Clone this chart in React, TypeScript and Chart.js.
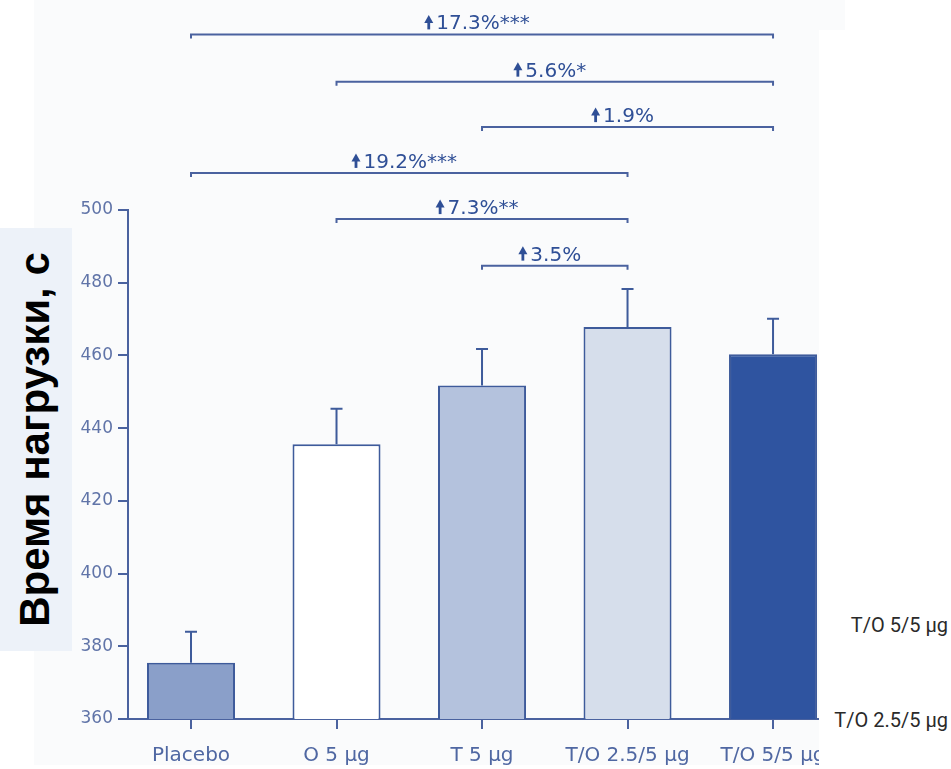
import React, { useEffect, useRef } from "react";
import { Chart, registerables } from "chart.js";

Chart.register(...registerables);

// Groups and measured exercise time (s), mean with SE
const categories = ["Placebo", "O 5 μg", "T 5 μg", "T/O 2.5/5 μg", "T/O 5/5 μg"];
const means = [375.5, 435.6, 451.7, 467.8, 460.3];
const errors = [8.5, 9.7, 10.1, 10.5, 9.8];
const barFills = ["#8a9fc9", "#ffffff", "#b4c2dd", "#d6deeb", "#2f54a0"];
const yTicks = [360, 380, 400, 420, 440, 460, 480, 500];

// Pairwise comparison brackets (category indexes, height on the y scale, label)
const bracketFrom = [0, 1, 2, 0, 1, 2];
const bracketTo = [4, 4, 4, 3, 3, 3];
const bracketLevel = [548.3, 535.3, 522.8, 510.2, 497.5, 484.7];
const bracketLabel = ["17.3%***", "5.6%*", "1.9%", "19.2%***", "7.3%**", "3.5%"];

const AXIS = "#4a629f";
const BAR_EDGE = "#3e5b9b";
const TEXT_BLUE = "#2f4f96";

const errorBars = {
  id: "errorBars",
  afterDatasetsDraw(chart: any) {
    const { ctx, scales } = chart;
    const xs = scales.x;
    const ys = scales.y;
    ctx.save();
    ctx.strokeStyle = BAR_EDGE;
    ctx.lineWidth = 2;
    means.forEach((m, i) => {
      const x = xs.getPixelForValue(i);
      const yTop = ys.getPixelForValue(m);
      const yErr = ys.getPixelForValue(m + errors[i]);
      ctx.beginPath();
      ctx.moveTo(x, yTop);
      ctx.lineTo(x, yErr);
      ctx.moveTo(x - 6, yErr);
      ctx.lineTo(x + 6, yErr);
      ctx.stroke();
    });
    ctx.restore();
  },
};

const brackets = {
  id: "brackets",
  afterDraw(chart: any) {
    const { ctx, scales } = chart;
    const xs = scales.x;
    const ys = scales.y;
    ctx.save();
    ctx.lineWidth = 2;
    ctx.strokeStyle = AXIS;
    ctx.fillStyle = TEXT_BLUE;
    ctx.font = "20px 'DejaVu Sans'";
    ctx.textBaseline = "alphabetic";
    ctx.textAlign = "left";
    bracketLabel.forEach((label, i) => {
      const x1 = xs.getPixelForValue(bracketFrom[i]);
      const x2 = xs.getPixelForValue(bracketTo[i]);
      const y = ys.getPixelForValue(bracketLevel[i]);
      ctx.beginPath();
      ctx.moveTo(x1, y + 4);
      ctx.lineTo(x1, y);
      ctx.lineTo(x2, y);
      ctx.lineTo(x2, y + 4);
      ctx.stroke();

      const base = y - 5;
      const w = ctx.measureText(label).width;
      const arrowW = 9;
      const gap = 3;
      const total = arrowW + gap + w;
      const start = (x1 + x2) / 2 - 5 - total / 2;
      // up arrow: filled head + stem
      const ac = start + arrowW / 2;
      ctx.beginPath();
      ctx.moveTo(ac, base - 14.5);
      ctx.lineTo(start + arrowW, base - 6.5);
      ctx.lineTo(start, base - 6.5);
      ctx.closePath();
      ctx.fill();
      ctx.fillRect(ac - 1.4, base - 8, 2.8, 8);
      ctx.fillText(label, start + arrowW + gap, base);
    });
    ctx.restore();
  },
};

export default function App() {
  const canvasRef = useRef<HTMLCanvasElement | null>(null);

  useEffect(() => {
    if (!canvasRef.current) return;
    const chart = new Chart(canvasRef.current, {
      type: "bar",
      data: {
        datasets: [
          {
            data: means.map((v, i) => ({ x: i, y: v })),
            backgroundColor: barFills,
            borderColor: BAR_EDGE,
            borderWidth: 2,
            borderSkipped: false,
            categoryPercentage: 1,
            barPercentage: 0.605,
          },
        ],
      },
      options: {
        animation: false,
        responsive: false,
        devicePixelRatio: 1,
        layout: { autoPadding: false, padding: { top: 210, right: 1, bottom: 0, left: 0 } },
        plugins: {
          legend: { display: false },
          tooltip: { enabled: false },
        },
        scales: {
          x: {
            type: "linear",
            offset: false,
            min: -0.433,
            max: 4.309,
            afterBuildTicks: (s: any) => {
              s.ticks = categories.map((_, i) => ({ value: i }));
            },
            afterFit: (s: any) => {
              s.height = 50;
              s.paddingLeft = 0;
              s.paddingRight = 0;
            },
            grid: {
              offset: false,
              drawOnChartArea: false,
              drawTicks: true,
              tickLength: 10,
              color: AXIS,
              lineWidth: 2,
            },
            border: { display: true, color: AXIS, width: 2 },
            ticks: {
              autoSkip: false,
              maxRotation: 0,
              padding: 15,
              color: "#4f67a2",
              font: { family: "'DejaVu Sans'", size: 20 },
              callback: (v: any) => categories[Math.round(Number(v))] ?? "",
            },
          },
          y: {
            type: "linear",
            min: 360,
            max: 500,
            afterBuildTicks: (s: any) => {
              s.ticks = yTicks.map((v) => ({ value: v }));
            },
            afterFit: (s: any) => {
              s.width = 94;
              s.paddingTop = 0;
              s.paddingBottom = 0;
            },
            grid: {
              drawOnChartArea: false,
              drawTicks: true,
              tickLength: 10,
              color: AXIS,
              lineWidth: 2,
            },
            border: { display: true, color: AXIS, width: 2 },
            ticks: {
              padding: 5,
              color: "#6074a8",
              font: { family: "'DejaVu Sans'", size: 17 },
            },
          },
        },
      },
      plugins: [errorBars, brackets],
    });
    return () => chart.destroy();
  }, []);

  const sideText: React.CSSProperties = {
    position: "absolute",
    right: 3,
    lineHeight: "22px",
    fontFamily: "Roboto, sans-serif",
    fontSize: 20,
    color: "#2a2a2a",
    whiteSpace: "nowrap",
  };

  return (
    <div
      style={{
        position: "absolute",
        left: 0,
        top: 0,
        width: 951,
        height: 769,
        overflow: "hidden",
        background: "#ffffff",
      }}
    >
      <div style={{ position: "absolute", left: 34, top: 0, width: 811, height: 30, background: "#fafbfc" }} />
      <div style={{ position: "absolute", left: 34, top: 30, width: 785, height: 735, background: "#fafbfc" }} />
      <canvas
        ref={canvasRef}
        width={785}
        height={769}
        style={{ position: "absolute", left: 34, top: 0, width: 785, height: 769 }}
      />
      <div
        style={{
          position: "absolute",
          left: 0,
          top: 228,
          width: 72,
          height: 423,
          background: "#edf2f9",
        }}
      >
        <div
          style={{
            position: "absolute",
            left: 11,
            top: 0,
            width: 423,
            height: 48,
            lineHeight: "48px",
            textAlign: "center",
            whiteSpace: "nowrap",
            fontFamily: "'Liberation Sans', Arial, sans-serif",
            fontWeight: 700,
            fontSize: 42,
            color: "#000",
            transformOrigin: "0 0",
            transform: "rotate(-90deg) translate(-423px, 0)",
          }}
        >
          Время нагрузки, с
        </div>
      </div>
      <div style={{ ...sideText, top: 614 }}>T/O 5/5 μg</div>
      <div style={{ ...sideText, top: 709 }}>T/O 2.5/5 μg</div>
    </div>
  );
}
